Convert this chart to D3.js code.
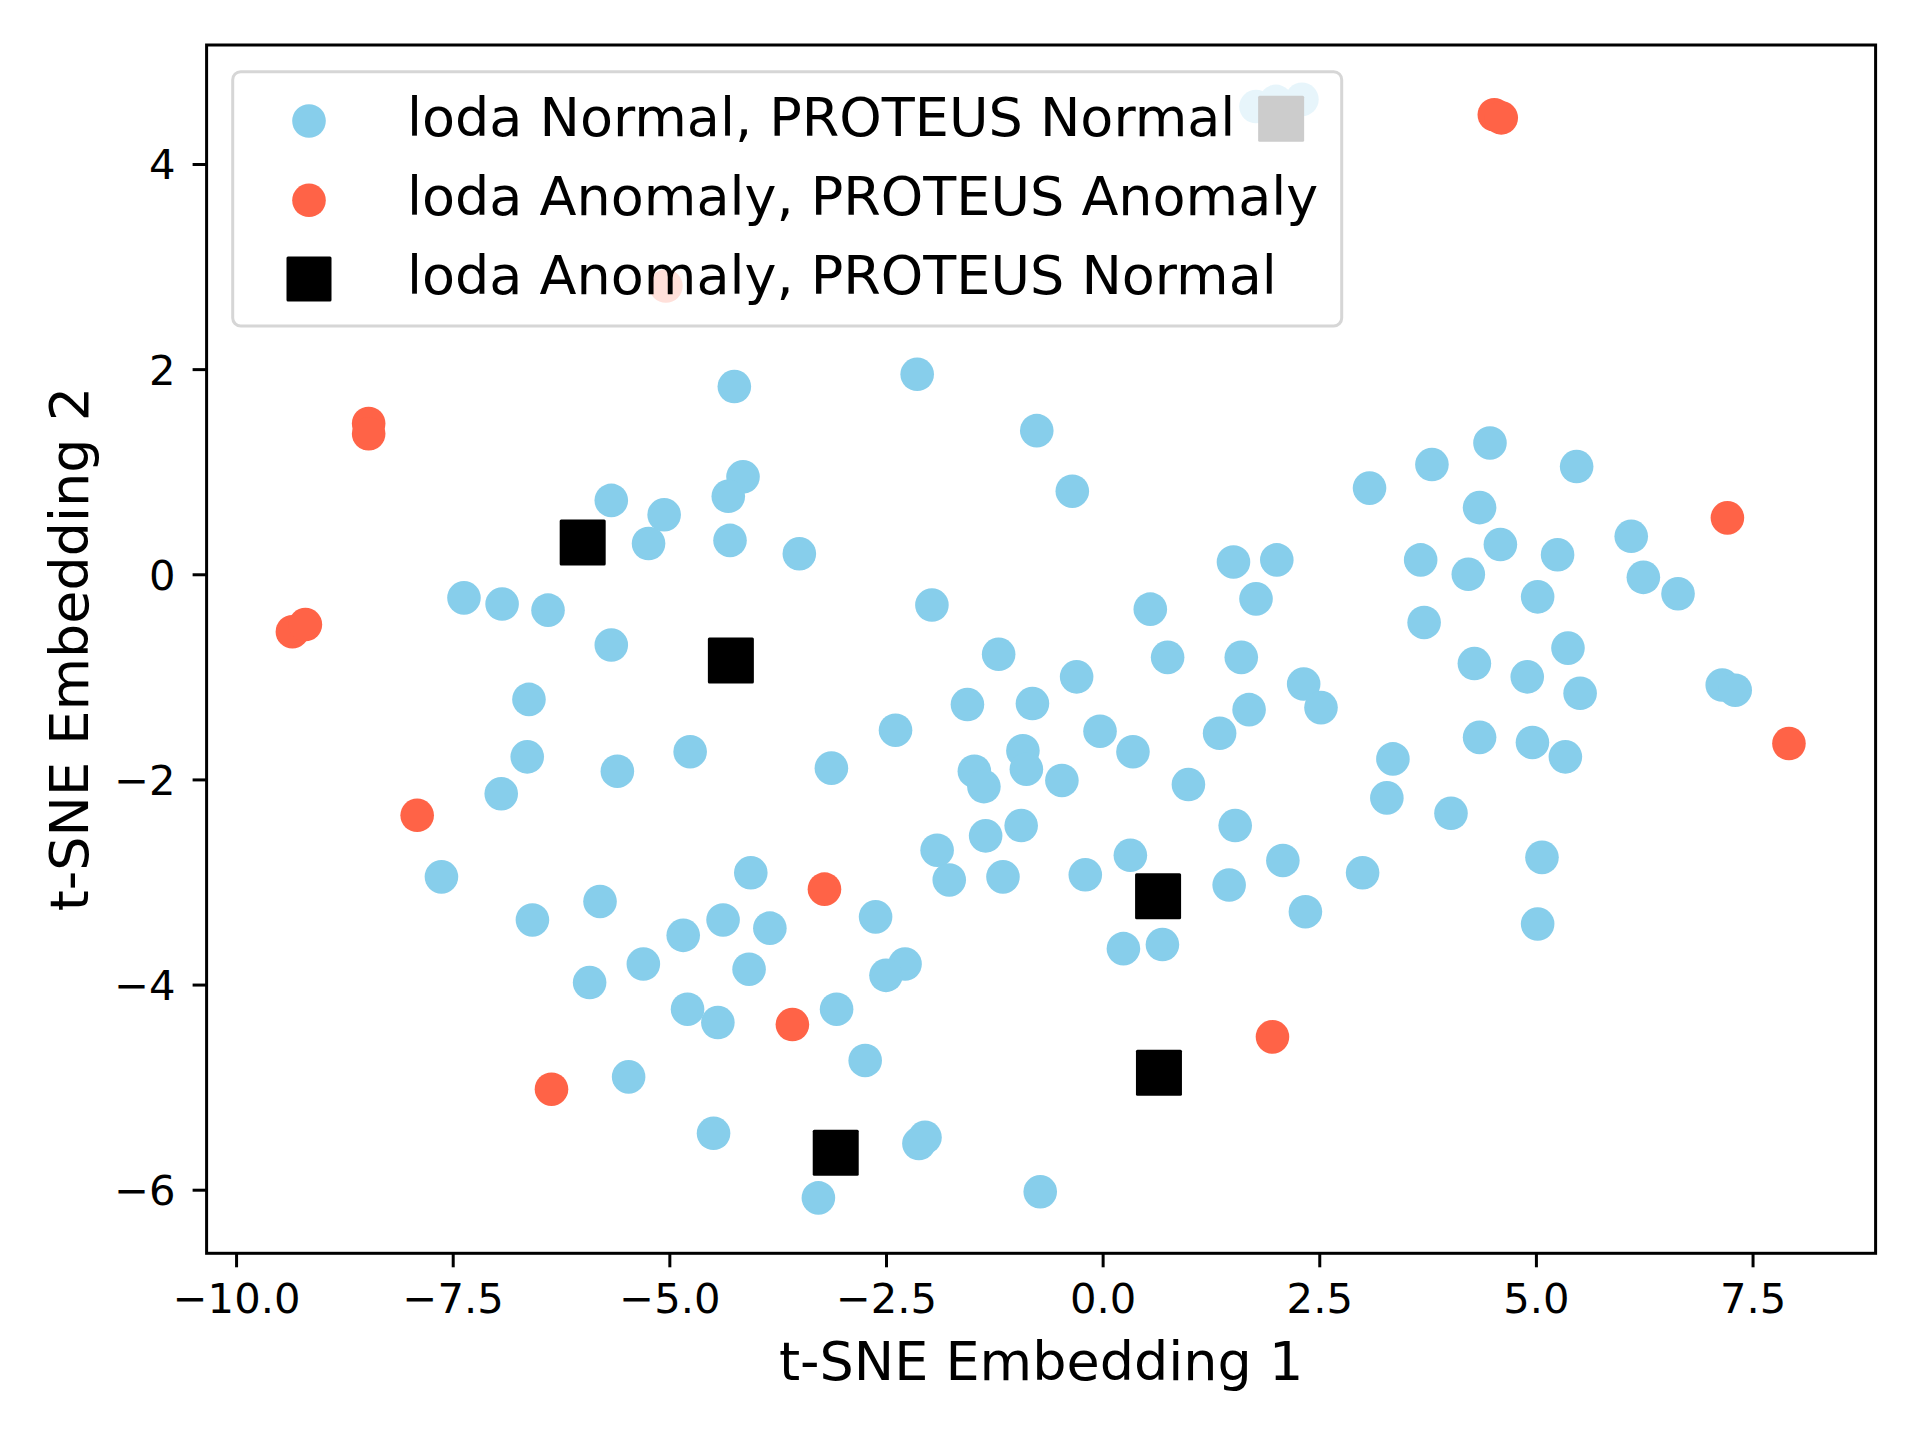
<!DOCTYPE html>
<html>
<head>
<meta charset="utf-8">
<script src="https://cdn.jsdelivr.net/npm/d3@7"></script>
<style>
  body { margin: 0; background: #fff; }
  text { font-family: "DejaVu Sans", sans-serif; fill: #000; }
</style>
</head>
<body>
<div id="chart"></div>
<script>
"use strict";

// t-SNE points: [embedding 1, embedding 2]
var normalPts = [
    [1.77, 4.56], [2.00, 4.61], [2.30, 4.63],
    [-4.25, 1.83], [-2.14, 1.95], [-0.76, 1.40], [-0.35, 0.81],
    [-4.15, 0.95], [-4.32, 0.76], [-4.30, 0.33], [-5.67, 0.72], [-5.06, 0.58], [-5.24, 0.30], [-3.50, 0.20],
    [-7.37, -0.23], [-6.93, -0.29], [-6.40, -0.35], [-5.67, -0.69], [-6.62, -1.22],
    [-6.64, -1.78], [-6.94, -2.14], [-5.60, -1.92], [-4.76, -1.73], [-3.13, -1.89], [-2.39, -1.52],
    [-7.63, -2.95], [-6.58, -3.37], [-5.80, -3.19], [-4.06, -2.91], [-2.62, -3.34], [-4.38, -3.37],
    [-4.84, -3.52], [-3.84, -3.45], [-4.08, -3.85], [-5.30, -3.80], [-5.92, -3.98], [-2.28, -3.80],
    [-2.50, -3.91], [-4.79, -4.24], [-4.44, -4.37], [-3.07, -4.24], [-2.74, -4.74], [-5.47, -4.90],
    [-4.49, -5.45], [-3.28, -6.08], [-2.12, -5.55], [-2.05, -5.49], [-0.72, -6.02],
    [-1.97, -0.30], [-1.20, -0.78], [0.55, -0.34], [1.77, -0.24], [1.51, 0.12], [2.01, 0.14],
    [0.75, -0.81], [1.60, -0.81], [-0.30, -1.00], [-1.56, -1.27], [-0.81, -1.26], [2.32, -1.07],
    [2.52, -1.30], [1.69, -1.32], [1.35, -1.55], [-0.03, -1.53], [0.35, -1.73], [-0.92, -1.72],
    [-0.88, -1.90], [-1.48, -1.92], [-1.37, -2.07], [-0.47, -2.01], [0.99, -2.05], [-0.94, -2.45],
    [-1.35, -2.55], [-1.91, -2.69], [-1.77, -2.98], [-1.15, -2.95], [-0.20, -2.93], [0.32, -2.74],
    [1.53, -2.45], [2.08, -2.79], [1.46, -3.03], [2.34, -3.29], [3.00, -2.91], [0.24, -3.65], [0.69, -3.61],
    [4.47, 1.28], [3.80, 1.07], [5.47, 1.05], [3.08, 0.84], [4.35, 0.65], [4.59, 0.29], [6.10, 0.37],
    [3.67, 0.14], [4.22, 0.00], [5.25, 0.19], [6.24, -0.03], [6.64, -0.19], [5.02, -0.22], [3.71, -0.47],
    [5.37, -0.72], [4.29, -0.87], [4.90, -1.00], [5.51, -1.16], [7.15, -1.08], [7.30, -1.13],
    [4.35, -1.59], [4.96, -1.64], [5.34, -1.78], [3.35, -1.80], [3.28, -2.18], [4.02, -2.33],
    [5.07, -2.76], [5.02, -3.41]
];
var anomalyPts = [
    [4.52, 4.48], [4.60, 4.45], [7.21, 0.55], [7.92, -1.65], [-8.47, 1.47], [-8.47, 1.37],
    [-9.35, -0.56], [-9.20, -0.49], [-7.91, -2.35], [-3.21, -3.07], [-3.58, -4.39],
    [-6.36, -5.02], [1.96, -4.51], [-5.04, 2.81]
];
var missedPts = [
    [2.06, 4.44], [-6.00, 0.31], [-4.29, -0.84], [0.64, -3.14], [0.65, -4.86], [-3.08, -5.64]
];

var xTicks = [-10, -7.5, -5, -2.5, 0, 2.5, 5, 7.5];
var yTicks = [-6, -4, -2, 0, 2, 4];
var xLimits = [-10.34, 8.92];
var yLimits = [-6.62, 5.16];
var legendLabels = [
    "loda Normal, PROTEUS Normal",
    "loda Anomaly, PROTEUS Anomaly",
    "loda Anomaly, PROTEUS Normal"
];

//Layout
var width = 1920;
var height = 1440;
var plotLeft = 206.6;
var plotRight = 1875.6;
var plotTop = 45;
var plotBottom = 1253.3;
var tickFont = 41.7;
var labelFont = 54;
var dotRadius = 16.8;
var squareSide = 46;
var blue = "#87ceeb";
var red = "#ff6347";

var svg = d3.select("#chart").append("svg")
    .attr("width", width)
    .attr("height", height);

var x = d3.scaleLinear().domain(xLimits).range([plotLeft, plotRight]);
var y = d3.scaleLinear().domain(yLimits).range([plotBottom, plotTop]);

var minus = function (v, digits) {
    return d3.format(digits)(v).replace("-", "\u2212");
};

//Axes
var xAxis = svg.append("g")
    .attr("transform", "translate(0," + plotBottom + ")")
    .call(d3.axisBottom(x).tickValues(xTicks).tickSize(14).tickPadding(16)
        .tickFormat(function (d) { return minus(d, ".1f"); }));

var yAxis = svg.append("g")
    .attr("transform", "translate(" + plotLeft + ",0)")
    .call(d3.axisLeft(y).tickValues(yTicks).tickSize(14).tickPadding(17)
        .tickFormat(function (d) { return minus(d, "d"); }));

[xAxis, yAxis].forEach(function (a) {
    a.select(".domain").remove();
    a.selectAll(".tick line").attr("stroke", "#000").attr("stroke-width", 3);
    a.selectAll(".tick text")
        .style("font-family", "'DejaVu Sans', sans-serif")
        .style("font-size", tickFont + "px")
        .attr("fill", "#000");
});
yAxis.selectAll(".tick text").attr("dy", "0.36em");

//Points: normal first, then anomalies, then the squares
var marks = svg.append("g");

marks.selectAll("circle.normal")
    .data(normalPts)
    .enter().append("circle")
    .attr("class", "normal")
    .attr("cx", function (d) { return x(d[0]); })
    .attr("cy", function (d) { return y(d[1]); })
    .attr("r", dotRadius)
    .attr("fill", blue);

marks.selectAll("circle.anomaly")
    .data(anomalyPts)
    .enter().append("circle")
    .attr("class", "anomaly")
    .attr("cx", function (d) { return x(d[0]); })
    .attr("cy", function (d) { return y(d[1]); })
    .attr("r", dotRadius)
    .attr("fill", red);

marks.selectAll("rect.missed")
    .data(missedPts)
    .enter().append("rect")
    .attr("class", "missed")
    .attr("x", function (d) { return x(d[0]) - squareSide / 2; })
    .attr("y", function (d) { return y(d[1]) - squareSide / 2; })
    .attr("width", squareSide)
    .attr("height", squareSide)
    .attr("rx", 1.5)
    .attr("fill", "#000");

//Frame
svg.append("rect")
    .attr("x", plotLeft)
    .attr("y", plotTop)
    .attr("width", plotRight - plotLeft)
    .attr("height", plotBottom - plotTop)
    .attr("fill", "none")
    .attr("stroke", "#000")
    .attr("stroke-width", 3);

//Axis labels
svg.append("text")
    .attr("x", (plotLeft + plotRight) / 2)
    .attr("y", 1380)
    .attr("text-anchor", "middle")
    .style("font-size", labelFont + "px")
    .text("t-SNE Embedding 1");

svg.append("text")
    .attr("transform", "translate(88," + (plotTop + plotBottom) / 2 + ") rotate(-90)")
    .attr("text-anchor", "middle")
    .style("font-size", labelFont + "px")
    .text("t-SNE Embedding 2");

//Legend
var legend = svg.append("g");
legend.append("rect")
    .attr("x", 232.7)
    .attr("y", 71.7)
    .attr("width", 1109)
    .attr("height", 254.3)
    .attr("rx", 8)
    .attr("fill", "#fff")
    .attr("fill-opacity", 0.8)
    .attr("stroke", "#d6d6d6")
    .attr("stroke-width", 3);

var rowY = [121, 200.3, 279];
legendLabels.forEach(function (label, i) {
    if (i < 2) {
        legend.append("circle")
            .attr("cx", 309)
            .attr("cy", rowY[i])
            .attr("r", dotRadius)
            .attr("fill", i == 0 ? blue : red);
    } else {
        legend.append("rect")
            .attr("x", 309 - 45 / 2)
            .attr("y", rowY[i] - 45 / 2)
            .attr("width", 45)
            .attr("height", 45)
            .attr("rx", 1.5)
            .attr("fill", "#000");
    }
    legend.append("text")
        .attr("x", 407)
        .attr("y", rowY[i] + 15)
        .style("font-size", labelFont + "px")
        .text(label);
});
</script>
</body>
</html>
